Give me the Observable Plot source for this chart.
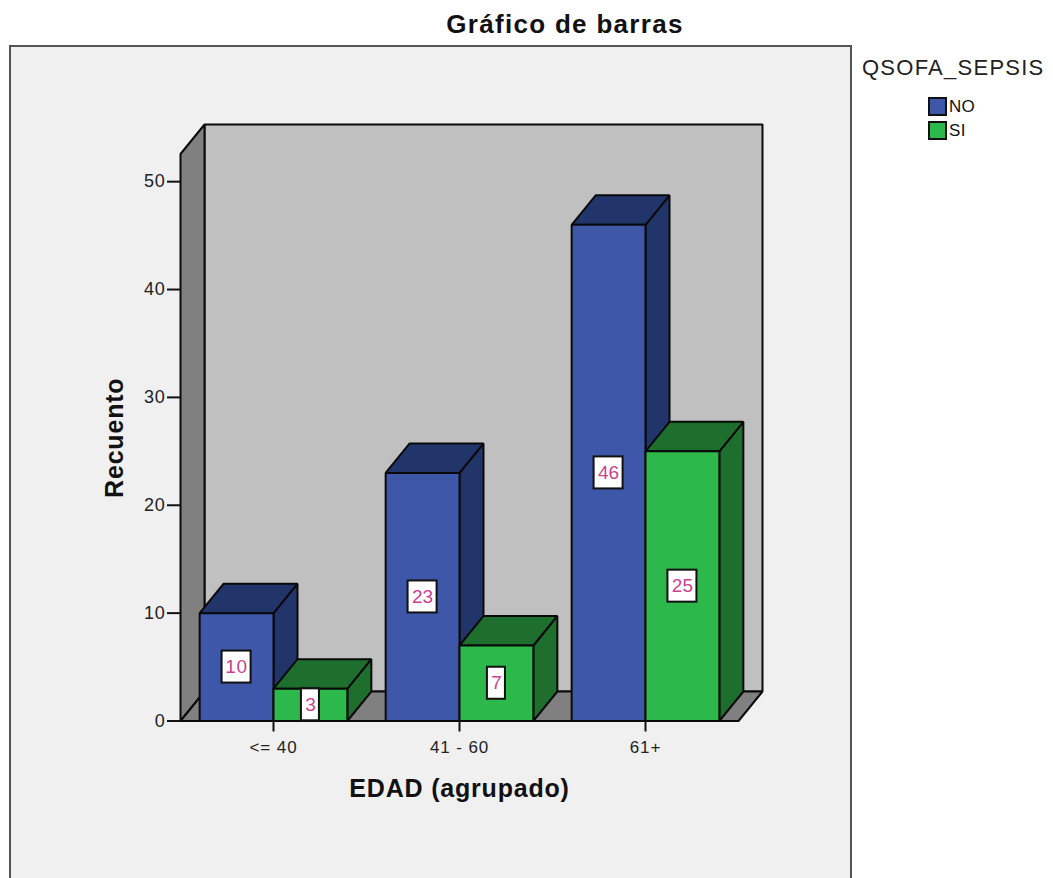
<!DOCTYPE html>
<html>
<head>
<meta charset="utf-8">
<script src="https://cdn.jsdelivr.net/npm/d3@7"></script>
<script src="https://cdn.jsdelivr.net/npm/@observablehq/plot@0.6"></script>
<style>
html,body{margin:0;padding:0;background:#fff;overflow:hidden}
#page{position:relative;width:1053px;height:878px;overflow:hidden;font-family:"Liberation Sans",Arial,sans-serif;color:#111}
#panel{position:absolute;left:9px;top:45px;width:839px;height:860px;background:#f0f0f0;border:2px solid #555}
#title{position:absolute;left:340px;width:450px;text-align:center;top:9px;font-size:26px;letter-spacing:1.3px;font-weight:bold;line-height:30px;color:#111}
#legendTitle{position:absolute;left:862px;top:55px;font-size:22px;letter-spacing:1.25px;line-height:26px;color:#222}
.key{position:absolute;left:928px;width:15px;height:15px;border:2px solid #111}
.keyText{position:absolute;left:949px;font-size:17px;letter-spacing:.3px;line-height:18px;color:#111}
#chart{position:absolute;left:0;top:0}
svg{background:transparent!important;overflow:visible}
</style>
</head>
<body>
<div id="page">
  <div id="panel"></div>
  <div id="title"></div>
  <div id="legendTitle"></div>
  <div id="legend"></div>
  <div id="chart"></div>
</div>
<script>
const titleText = "Gráfico de barras";
const legendTitle = "QSOFA_SEPSIS";
const yLabel = "Recuento";
const xLabel = "EDAD (agrupado)";
const categories = ["<= 40", "41 - 60", "61+"];
const seriesNames = ["NO", "SI"];
const noValues = [10, 23, 46];
const siValues = [3, 7, 25];
const yTicks = [0, 10, 20, 30, 40, 50];
const frontColors = ["#3e57a8", "#2cb84a"];
const darkColors = ["#22356b", "#1e6f2e"];
const wallColor = "#c0c0c0";
const sideColor = "#808080";
const textPink = "#cc3f8f";

// Depth of the pseudo-3D projection, in scale units
const depthX = 0.129, depthY = 2.735;
const barWidth = 0.397;
const xMin = -0.5, xMax = 2.5, yTop = 52.565;

const face = (pts, fill) => Plot.line(pts, {
  x: d => d[0], y: d => d[1], curve: "linear-closed",
  fill, stroke: "#0a0a0a", strokeWidth: 2, strokeLinejoin: "miter"
});

const bar = (x0, v, s) => {
  const x1 = x0 + barWidth;
  return [
    face([[x1, 0], [x1 + depthX, depthY], [x1 + depthX, v + depthY], [x1, v]], darkColors[s]),
    face([[x0, v], [x1, v], [x1 + depthX, v + depthY], [x0 + depthX, v + depthY]], darkColors[s]),
    face([[x0, 0], [x1, 0], [x1, v], [x0, v]], frontColors[s])
  ];
};

const bars = categories.flatMap((c, i) => [
  ...bar(i - barWidth, noValues[i], 0),
  ...bar(i, siValues[i], 1)
]);

const labels = categories.flatMap((c, i) => [
  {x: i - barWidth / 2, v: noValues[i]},
  {x: i + barWidth / 2, v: siValues[i]}
]).map(d => ({...d, hw: (String(d.v).length > 1 ? 14.5 : 9) / 186, hh: Math.min(16 / 10.787, d.v / 2)}));

const plot = Plot.plot({
  width: 1053, height: 878,
  marginLeft: 180, marginRight: 291, marginTop: 124, marginBottom: 157.5,
  style: {background: "transparent", fontFamily: "'Liberation Sans', Arial, sans-serif", color: "#111"},
  x: {type: "linear", domain: [xMin, xMax + depthX]},
  y: {type: "linear", domain: [0, yTop + depthY]},
  marks: [
    face([[xMin + depthX, depthY], [xMax + depthX, depthY], [xMax + depthX, yTop + depthY], [xMin + depthX, yTop + depthY]], wallColor),
    face([[xMin, 0], [xMin + depthX, depthY], [xMin + depthX, yTop + depthY], [xMin, yTop]], sideColor),
    face([[xMin, 0], [xMax, 0], [xMax + depthX, depthY], [xMin + depthX, depthY]], sideColor),
    ...bars,
    Plot.ruleY([0], {x1: xMin, x2: xMax, stroke: "#0a0a0a", strokeWidth: 2}),
    Plot.rect(labels, {
      x1: d => d.x - d.hw, x2: d => d.x + d.hw,
      y1: d => d.v / 2 - d.hh, y2: d => d.v / 2 + d.hh,
      fill: "#fff", stroke: "#111", strokeWidth: 2
    }),
    Plot.text(labels, {x: "x", y: d => d.v / 2, text: d => String(d.v), fill: textPink, fontSize: 19}),
    Plot.axisY({ticks: yTicks, tickSize: 13, tickPadding: 2, fontSize: 18, label: null, stroke: "#111", strokeWidth: 2, strokeOpacity: 1, fill: "#222", tickFormat: d => d}),
    Plot.axisX({ticks: [0, 1, 2], tickSize: 11, tickPadding: 9, fontSize: 17, label: null, stroke: "#111", strokeWidth: 2, strokeOpacity: 1, fill: "#222", tickFormat: d => categories[d]}),
    Plot.text([yLabel], {frameAnchor: "left", textAnchor: "middle", dx: -66, dy: 15, rotate: -90, fontSize: 25, fontWeight: "bold", fill: "#111"}),
    Plot.text([xLabel], {frameAnchor: "bottom", dx: -12, dy: 76, fontSize: 25, fontWeight: "bold", fill: "#111"})
  ]
});
// Widen the lettering to the reference's stretched look
plot.querySelectorAll("text").forEach(t => {
  const s = t.textContent;
  if (s === yLabel || s === xLabel) t.style.letterSpacing = "0.8px";
  else if (yTicks.map(String).includes(s)) t.style.letterSpacing = "0.8px";
  else if (categories.includes(s)) t.style.letterSpacing = "0.9px";
});
document.getElementById("chart").appendChild(plot);

document.getElementById("title").textContent = titleText;
document.getElementById("legendTitle").textContent = legendTitle;
const legend = document.getElementById("legend");
seriesNames.forEach((name, i) => {
  const top = 97 + i * 24;
  const k = document.createElement("div");
  k.className = "key"; k.style.top = top + "px"; k.style.background = frontColors[i];
  const t = document.createElement("div");
  t.className = "keyText"; t.style.top = (top + 1) + "px"; t.textContent = name;
  legend.append(k, t);
});
</script>
</body>
</html>
